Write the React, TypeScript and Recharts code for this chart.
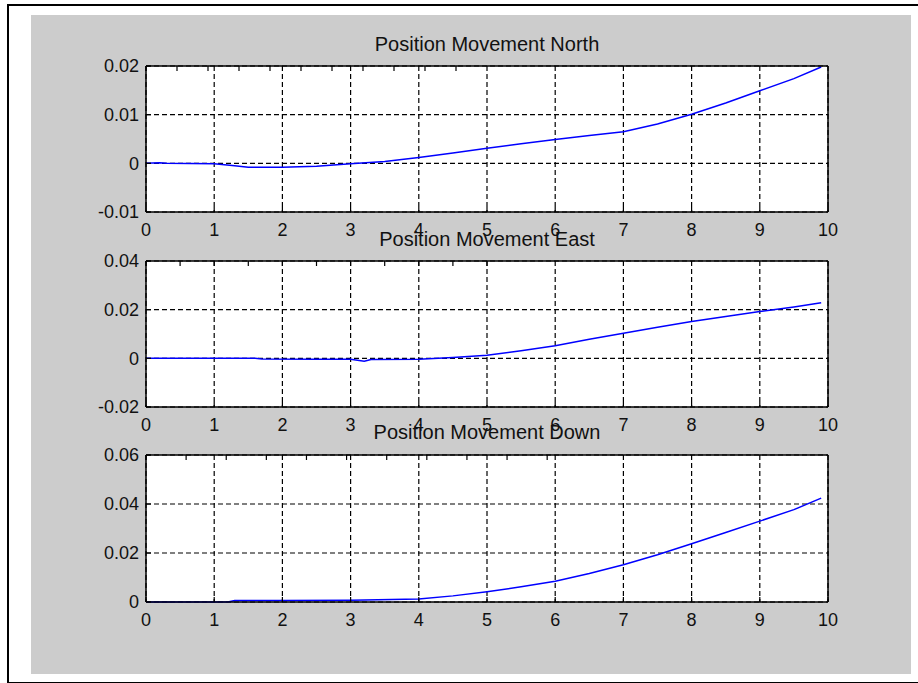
import React from "react";
import { LineChart, Line, XAxis, YAxis, CartesianGrid } from "recharts";

const xTicks = [0, 1, 2, 3, 4, 5, 6, 7, 8, 9, 10];

const northT = [0, 0.2, 0.3, 1, 1.3, 1.5, 2, 2.5, 3, 3.5, 4, 4.5, 5, 5.5, 6, 6.5, 7, 7.5, 8, 8.5, 9, 9.5, 9.9];
const northV = [0, 0.0001, 0, -0.0001, -0.0005, -0.0008, -0.0008, -0.0006, -0.0001, 0.0004, 0.0012, 0.0021, 0.0031, 0.004, 0.0049, 0.0057, 0.0065, 0.0081, 0.0101, 0.0124, 0.0149, 0.0174, 0.0198];
const northTicks = [-0.01, 0, 0.01, 0.02];

const eastT = [0, 1, 1.6, 1.7, 2.5, 3, 3.2, 3.3, 4, 4.5, 5, 5.5, 6, 6.5, 7, 7.5, 8, 8.5, 9, 9.5, 9.9];
const eastV = [0, 0, 0, -0.0003, -0.0004, -0.0004, -0.0012, -0.0005, -0.0004, 0.0003, 0.0013, 0.0031, 0.0052, 0.0078, 0.0103, 0.0128, 0.0151, 0.0172, 0.0192, 0.0211, 0.0228];
const eastTicks = [-0.02, 0, 0.02, 0.04];

const downT = [0, 1.2, 1.3, 2, 3, 4, 4.5, 5, 5.5, 6, 6.5, 7, 7.5, 8, 8.5, 9, 9.5, 9.9];
const downV = [0, 0, 0.0006, 0.0006, 0.0007, 0.0012, 0.0025, 0.0042, 0.0062, 0.0085, 0.0116, 0.0152, 0.0193, 0.0238, 0.0284, 0.033, 0.0377, 0.0424];
const downTicks = [0, 0.02, 0.04, 0.06];

const titles = ["Position Movement North", "Position Movement East", "Position Movement Down"];

const W = 918;
const H = 683;
const PLOT_LEFT = 146;
const PLOT_RIGHT = 828;
const FONT = "'Liberation Sans', Arial, sans-serif";
const Y_W = 60;
const X_H = 30;
const R_W = 10;
const T_H = 10;

type PanelProps = {
  t: number[];
  v: number[];
  yTicks: number[];
  top: number;
  bottom: number;
};

const tickStyle = { fontSize: 18, fill: "#111", fontFamily: FONT };

function Panel({ t, v, yTicks, top, bottom }: PanelProps) {
  const data = t.map((x, i) => ({ t: x, v: v[i] }));
  const domain: [number, number] = [yTicks[0], yTicks[yTicks.length - 1]];
  return (
    <div style={{ position: "absolute", left: 0, top: 0 }}>
      <LineChart
        width={W}
        height={H}
        data={data}
        margin={{
          top: top - T_H,
          left: PLOT_LEFT - Y_W,
          right: W - PLOT_RIGHT - R_W,
          bottom: H - bottom - X_H,
        }}
      >
        <CartesianGrid fill="#ffffff" stroke="#000" strokeWidth={1.2} strokeDasharray="5 3" />
        <XAxis
          dataKey="t"
          type="number"
          domain={[0, 10]}
          ticks={xTicks}
          height={X_H}
          tickSize={-5}
          tickMargin={16}
          tick={tickStyle}
          axisLine={{ stroke: "#000", strokeWidth: 1.5 }}
          tickLine={{ stroke: "#000", strokeWidth: 1.2 }}
        />
        <XAxis
          xAxisId="top"
          orientation="top"
          type="number"
          domain={[0, 10]}
          ticks={xTicks}
          height={T_H}
          tickSize={-5}
          tickFormatter={() => ""}
          axisLine={{ stroke: "#000", strokeWidth: 1.5 }}
          tickLine={{ stroke: "#000", strokeWidth: 1.2 }}
        />
        <YAxis
          type="number"
          domain={domain}
          ticks={yTicks}
          width={Y_W}
          tickSize={-5}
          tickMargin={12}
          tick={tickStyle}
          axisLine={{ stroke: "#000", strokeWidth: 1.5 }}
          tickLine={{ stroke: "#000", strokeWidth: 1.2 }}
        />
        <YAxis
          yAxisId="right"
          orientation="right"
          type="number"
          domain={domain}
          ticks={yTicks}
          width={R_W}
          tickSize={-5}
          tickFormatter={() => ""}
          axisLine={{ stroke: "#000", strokeWidth: 1.5 }}
          tickLine={{ stroke: "#000", strokeWidth: 1.2 }}
        />
        <Line
          type="linear"
          dataKey="v"
          stroke="#0000ff"
          strokeWidth={1.5}
          dot={false}
          isAnimationActive={false}
        />
      </LineChart>
    </div>
  );
}

export default function App() {
  const panels = [
    { t: northT, v: northV, yTicks: northTicks, top: 66, bottom: 212, titleY: 44 },
    { t: eastT, v: eastV, yTicks: eastTicks, top: 261, bottom: 407, titleY: 239 },
    { t: downT, v: downV, yTicks: downTicks, top: 455, bottom: 602, titleY: 432 },
  ];
  return (
    <div style={{ position: "absolute", left: 0, top: 0, width: W, height: H, background: "#fff", overflow: "hidden" }}>
      <div
        style={{
          position: "absolute",
          left: 7,
          top: 4,
          width: 930,
          height: 676,
          borderLeft: "2px solid #000",
          borderTop: "2px solid #000",
          borderBottom: "2px solid #000",
        }}
      />
      <div style={{ position: "absolute", left: 31, top: 15, width: 880, height: 659, background: "#cccccc" }} />
      {panels.map((p, i) => (
        <Panel key={i} t={p.t} v={p.v} yTicks={p.yTicks} top={p.top} bottom={p.bottom} />
      ))}
      {panels.map((p, i) => (
        <div
          key={"title" + i}
          style={{
            position: "absolute",
            left: PLOT_LEFT,
            width: PLOT_RIGHT - PLOT_LEFT,
            top: p.titleY - 12,
            height: 24,
            lineHeight: "24px",
            textAlign: "center",
            fontFamily: FONT,
            fontSize: 20,
            color: "#111",
            whiteSpace: "nowrap",
          }}
        >
          {titles[i]}
        </div>
      ))}
    </div>
  );
}
